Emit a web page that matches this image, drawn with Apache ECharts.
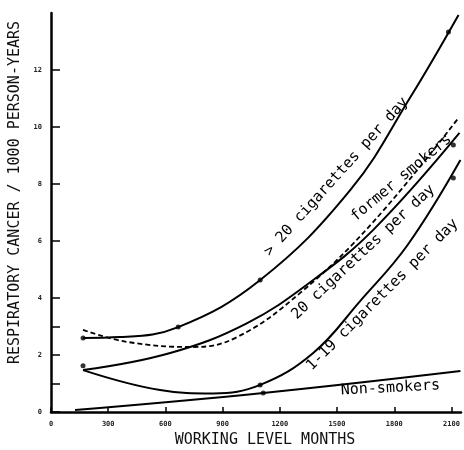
<!DOCTYPE html>
<html>
<head>
<meta charset="utf-8">
<script src="https://cdn.jsdelivr.net/npm/echarts@6/dist/echarts.min.js"></script>
<style>
  html, body { margin: 0; padding: 0; background: #fff; }
  #chart { width: 464px; height: 450px; }
</style>
</head>
<body>
<div id="chart"></div>
<script>
// curves: [working level months, cases / 1000 person-years]
var heavySmokers = [[168, 2.6], [362, 2.63], [667, 2.98], [1097, 4.63], [1570, 7.79], [1885, 11.05], [2137, 13.93]];
var formerSmokers = [[168, 2.88], [399, 2.46], [745, 2.28], [976, 2.63], [1307, 4.18], [1690, 6.67], [2137, 10.32]];
var smokers20 = [[168, 1.47], [625, 2.07], [1029, 3.12], [1375, 4.63], [1690, 6.39], [2142, 9.79]];
var lightSmokers = [[168, 1.47], [572, 0.77], [850, 0.65], [1097, 0.95], [1375, 2.07], [1622, 3.9], [1869, 5.85], [2147, 8.84]];
var nonSmokers = [[126, 0.07], [1113, 0.67], [2147, 1.44]];

// the dots drawn on the curves
var dots = [[168, 2.6], [667, 2.98], [1097, 4.63], [2084, 13.33], [168, 1.62], [2110, 9.37], [1097, 0.95], [2110, 8.21], [1113, 0.67]];

var xTicks = [0, 300, 600, 900, 1200, 1500, 1800, 2100];
var yTicks = [0, 1, 2, 3, 4, 6, 8, 10, 12];
var yLabels = [0, 2, 4, 6, 8, 10, 12];

// curve captions: text, anchor (data), angle in degrees
var captions = [
  { text: '> 20 cigarettes per day', at: [1496, 8.25], angle: 48 },
  { text: 'former smokers', at: [1837, 8.21], angle: 40 },
  { text: '20 cigarettes per day', at: [1638, 5.61], angle: 43 },
  { text: '1-19 cigarettes per day', at: [1738, 4.11], angle: 45 },
  { text: 'Non-smokers', at: [1780, 0.84], angle: 3 }
];

var FONT = 'DejaVu Sans Mono';
var chart = echarts.init(document.getElementById('chart'));

function curve(name, data, dashed) {
  return {
    name: name,
    type: 'line',
    data: data,
    smooth: 0.4,
    symbol: 'none',
    silent: true,
    lineStyle: { color: '#000', width: dashed ? 1.8 : 2, type: dashed ? [5, 3] : 'solid' }
  };
}

function plain(v) { return String(v); }

chart.setOption({
  animation: false,
  backgroundColor: '#fff',
  grid: { left: 51, right: 3, top: 13, bottom: 38, containLabel: false, outerBoundsMode: 'none' },
  xAxis: {
    type: 'value',
    min: 0,
    max: 2150,
    name: 'WORKING LEVEL MONTHS',
    nameLocation: 'middle',
    nameGap: 17,
    nameTextStyle: { fontFamily: FONT, fontSize: 15, color: '#111', padding: [0, 0, 0, 18] },
    axisLine: { lineStyle: { color: '#000', width: 2.5 } },
    axisTick: { show: true, inside: true, length: 5, customValues: xTicks, lineStyle: { color: '#000', width: 1.5 } },
    axisLabel: { customValues: xTicks, formatter: plain, margin: 9, fontSize: 7, fontWeight: 'bold', color: '#222', fontFamily: FONT },
    splitLine: { show: false }
  },
  yAxis: {
    type: 'value',
    min: 0,
    max: 14,
    name: 'RESPIRATORY CANCER / 1000 PERSON-YEARS',
    nameLocation: 'middle',
    nameGap: 17,
    nameTextStyle: { fontFamily: FONT, fontSize: 15, color: '#111', padding: [0, 0, 0, 40] },
    axisLine: { lineStyle: { color: '#000', width: 2.5 } },
    axisTick: { show: true, inside: true, length: 9, customValues: yTicks, lineStyle: { color: '#000', width: 1.5 } },
    axisLabel: { customValues: yLabels, formatter: plain, margin: 9, fontSize: 7, fontWeight: 'bold', color: '#222', fontFamily: FONT },
    splitLine: { show: false }
  },
  series: [
    curve('> 20 cigarettes per day', heavySmokers),
    curve('former smokers', formerSmokers, true),
    curve('20 cigarettes per day', smokers20),
    curve('1-19 cigarettes per day', lightSmokers),
    curve('Non-smokers', nonSmokers),
    {
      type: 'scatter',
      data: dots,
      symbolSize: 5,
      silent: true,
      itemStyle: { color: '#000' }
    }
  ]
});

chart.setOption({
  graphic: captions.map(function (c) {
    var p = chart.convertToPixel({ gridIndex: 0 }, c.at);
    return {
      type: 'text',
      x: p[0],
      y: p[1],
      rotation: c.angle * Math.PI / 180,
      style: {
        text: c.text,
        fill: '#000',
        font: '15px "' + FONT + '"',
        align: 'center',
        verticalAlign: 'middle'
      }
    };
  })
});
</script>
</body>
</html>
